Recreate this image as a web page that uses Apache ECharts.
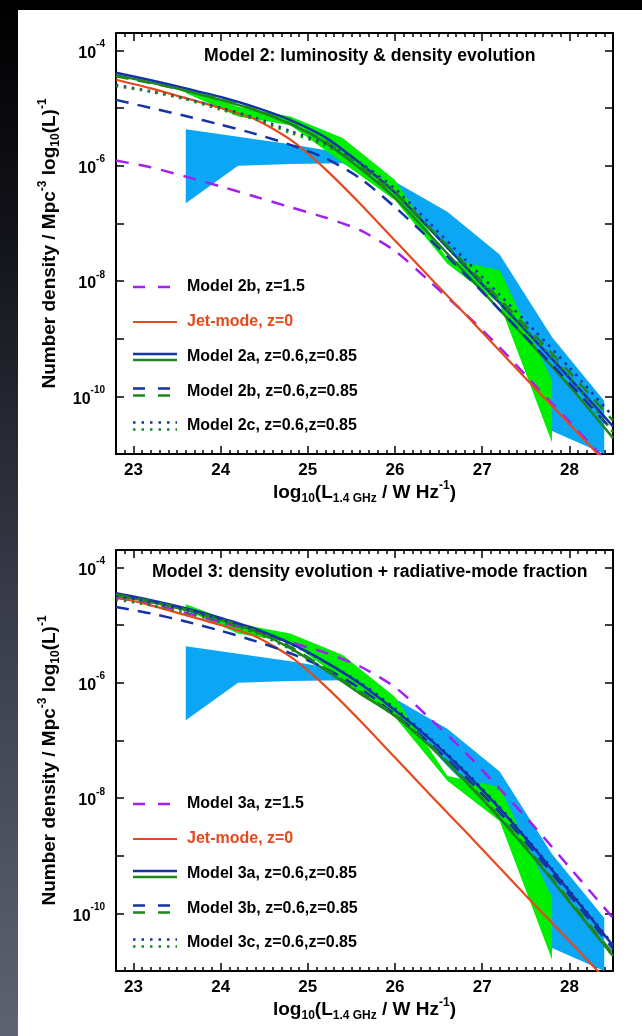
<!DOCTYPE html>
<html>
<head>
<meta charset="utf-8">
<script src="https://cdn.jsdelivr.net/npm/echarts@6/dist/echarts.min.js"></script>
<style>
html,body{margin:0;padding:0;}
body{width:642px;height:1036px;position:relative;overflow:hidden;background:linear-gradient(to bottom,#000 0%,#15161d 25%,#3a3d4b 60%,#5e6272 100%);}
#paper{position:absolute;left:18px;top:10px;right:0;bottom:0;background:#fff;}
#c{position:absolute;left:0;top:0;width:642px;height:1036px;}
</style>
</head>
<body>
<div id="paper"></div>
<div id="c"></div>
<script>
// ---------------- data (log10 of number density, per Mpc^3 per log10 L) ----------------
const TITLES = ['Model 2: luminosity & density evolution', 'Model 3: density evolution + radiative-mode fraction'];
const LEGEND_P1 = ['Model 2b, z=1.5', 'Jet-mode, z=0', 'Model 2a, z=0.6,z=0.85', 'Model 2b, z=0.6,z=0.85', 'Model 2c, z=0.6,z=0.85'];
const LEGEND_P2 = ['Model 3a, z=1.5', 'Jet-mode, z=0', 'Model 3a, z=0.6,z=0.85', 'Model 3b, z=0.6,z=0.85', 'Model 3c, z=0.6,z=0.85'];
const X_LABELS = [23, 24, 25, 26, 27, 28];
const Y_TICKS = [-10, -9, -8, -7, -6, -5, -4];
const Y_LABELS = [-10, -8, -6, -4];

// luminosity grid of the model curves, log10(L / W Hz^-1)
const LUM = [22.8, 23.2, 23.6, 24.0, 24.4, 24.8, 25.2, 25.6, 26.0, 26.4, 26.8, 27.2, 27.6, 28.0, 28.5];

// jet-mode local LF (same in both panels)
const JET_Z0 = [-4.51, -4.66, -4.83, -5.00, -5.20, -5.55, -6.06, -6.66, -7.30, -7.94, -8.57, -9.21, -9.85, -10.48, -11.28];

// panel 1: Model 2
const M2B_Z15   = [-5.91, -6.03, -6.19, -6.36, -6.54, -6.72, -6.90, -7.12, -7.48, -8.01, -8.56, -9.15, -9.80, -10.44, -11.25];
const M2A_BLUE  = [-4.39, -4.52, -4.66, -4.81, -4.99, -5.21, -5.51, -5.96, -6.47, -7.10, -7.74, -8.38, -9.02, -9.68, -10.52];
const M2A_GREEN = [-4.43, -4.56, -4.70, -4.86, -5.04, -5.28, -5.60, -6.05, -6.56, -7.20, -7.85, -8.50, -9.15, -9.82, -10.72];
const M2B_BLUE  = [-4.86, -5.00, -5.14, -5.29, -5.45, -5.64, -5.87, -6.22, -6.72, -7.28, -7.88, -8.50, -9.13, -9.77, -10.60];
const M2B_GREEN = [-4.45, -4.57, -4.70, -4.85, -5.03, -5.27, -5.58, -6.02, -6.48, -7.08, -7.70, -8.32, -8.94, -9.58, -10.42];
const M2C_BLUE  = [-4.60, -4.71, -4.84, -5.00, -5.17, -5.40, -5.62, -5.95, -6.40, -7.00, -7.62, -8.24, -8.86, -9.50, -10.35];
const M2C_GREEN = [-4.62, -4.72, -4.85, -5.03, -5.20, -5.43, -5.65, -5.98, -6.45, -7.08, -7.72, -8.36, -9.00, -9.66, -10.62];

// panel 2: Model 3
const M3A_Z15   = [-4.53, -4.63, -4.79, -4.95, -5.11, -5.30, -5.48, -5.72, -6.08, -6.62, -7.20, -7.84, -8.50, -9.20, -10.08];
const M3A_BLUE  = [-4.45, -4.57, -4.71, -4.88, -5.07, -5.32, -5.64, -6.02, -6.48, -6.98, -7.55, -8.18, -8.88, -9.62, -10.56];
const M3A_GREEN = [-4.49, -4.60, -4.74, -4.91, -5.11, -5.40, -5.78, -6.19, -6.58, -7.10, -7.70, -8.35, -9.05, -9.80, -10.74];
const M3B_BLUE  = [-4.69, -4.80, -4.94, -5.10, -5.28, -5.49, -5.75, -6.10, -6.55, -7.05, -7.62, -8.25, -8.94, -9.68, -10.62];
const M3B_GREEN = [-4.47, -4.59, -4.73, -4.90, -5.10, -5.38, -5.75, -6.16, -6.56, -7.08, -7.68, -8.33, -9.02, -9.77, -10.70];
const M3C_BLUE  = [-4.50, -4.60, -4.74, -4.90, -5.08, -5.33, -5.64, -6.00, -6.45, -6.96, -7.53, -8.16, -8.86, -9.60, -10.54];
const M3C_GREEN = [-4.56, -4.66, -4.79, -4.95, -5.14, -5.42, -5.78, -6.18, -6.58, -7.10, -7.70, -8.35, -9.05, -9.80, -10.74];

// observed ranges (shaded bands, same in both panels)
const BLUE_BAND_L     = [23.6, 24.2, 24.8, 25.4, 26.0, 26.6, 27.2, 27.8, 28.4];
const BLUE_BAND_UPPER = [-5.37, -5.50, -5.63, -5.78, -6.28, -6.80, -7.54, -8.97, -10.08];
const BLUE_BAND_LOWER = [-6.65, -6.00, -5.97, -5.96, -6.45, -7.45, -8.35, -10.60, -11.00];
const GREEN_BAND_L     = [23.6, 24.2, 24.8, 25.4, 26.0, 26.6, 27.2, 27.8];
const GREEN_BAND_UPPER = [-4.64, -4.98, -5.15, -5.52, -6.25, -7.62, -7.81, -9.72];
const GREEN_BAND_LOWER = [-4.74, -5.15, -5.30, -5.95, -6.60, -7.70, -8.40, -10.80];

// ---------------- styling ----------------
const FONT = "'Liberation Sans', Arial, Helvetica, sans-serif";
const C = {purple:'#a31ff2', orange:'#e6491d', blue:'#1533a6', green:'#1d871d', bandBlue:'#0ba6f4', bandGreen:'#00ee00'};
const X_MIN = 22.8, X_MAX = 28.5, Y_MIN = -11, Y_MAX = -3.7;
const GRID_TOP = [33, 550];
const X_MINOR = [];
for (let k = 229; k <= 285; k++) { if (k % 10 !== 0) X_MINOR.push(k / 10); }

const tickStyle = {color:'#000', width:1.5};
const lineAx = {show:true, onZero:false, lineStyle:{color:'#000', width:2}};

const xAxes = [], yAxes = [], grids = [], series = [], titles = [];

function pairs(xs, ys) { return xs.map((x, k) => [x, ys[k]]); }

function bandSeries(gi, Ls, up, lo, color) {
  return {
    type:'custom', xAxisIndex: gi*4, yAxisIndex: gi*2, clip:true, silent:true, z:1,
    data: [[Ls[0], up[0]]],
    renderItem: function (params, api) {
      const pts = [];
      for (let k = 0; k < Ls.length; k++) pts.push(api.coord([Ls[k], up[k]]));
      for (let k = Ls.length - 1; k >= 0; k--) pts.push(api.coord([Ls[k], lo[k]]));
      return {type:'polygon', shape:{points:pts}, style:{fill:color}};
    }
  };
}
function lineSeries(gi, ys, color, width, dash, z) {
  return {
    type:'line', xAxisIndex: gi*4, yAxisIndex: gi*2, data: pairs(LUM, ys),
    symbol:'none', showSymbol:false, smooth:0.25, clip:true, silent:true, z: z,
    lineStyle:{color:color, width:width, type: dash || 'solid', cap:'butt'}
  };
}

function legendEls(labels, dy) {
  const x0 = 133, x1 = 177, tx = 187;
  const rows = [287, 322, 357, 392, 426].map(v => v + dy);
  const ln = (y, color, w, dash) => ({type:'line', silent:true, z:50,
    shape:{x1:x0, y1:y, x2:x1, y2:y}, style:{stroke:color, lineWidth:w, lineDash:dash || null}});
  const els = [
    ln(rows[0], C.purple, 2.5, [12, 13]),
    ln(rows[1], C.orange, 2.2),
    ln(rows[2] - 3, C.blue, 2.5), ln(rows[2] + 3, C.green, 2.5),
    ln(rows[3] - 3.5, C.blue, 2.5, [12, 13]), ln(rows[3] + 3.5, C.green, 2.5, [12, 13]),
    ln(rows[4] - 3.5, C.blue, 2.5, [2.5, 6]), ln(rows[4] + 3.5, C.green, 2.5, [2.5, 6])
  ];
  labels.forEach((t, k) => {
    els.push({type:'text', silent:true, z:50, x:tx, y:rows[k],
      style:{text:t, font:'bold 16px ' + FONT, fill: k === 1 ? C.orange : '#000', align:'left', verticalAlign:'middle'}});
  });
  return els;
}

const yName = '{m|Number density / Mpc}{sup|-3}{m| log}{sub|10}{m|(L)}{sup|-1}';
const xName = '{m|log}{sub|10}{m|(L}{sub|1.4 GHz}{m| / W Hz}{sup|-1}{m|)}';
function nameRich(size, small) {
  return {
    m:{fontSize:size, fontWeight:'bold', fontFamily:FONT, color:'#000', lineHeight:size + 6, verticalAlign:'middle'},
    sup:{fontSize:small, fontWeight:'bold', fontFamily:FONT, color:'#000', lineHeight:small + 1, verticalAlign:'top'},
    sub:{fontSize:small, fontWeight:'bold', fontFamily:FONT, color:'#000', lineHeight:small + 1, verticalAlign:'bottom'}
  };
}

[0, 1].forEach(gi => {
  grids.push({left:116, top:GRID_TOP[gi], width:497, height:421, containLabel:false});
  const base = {gridIndex:gi, type:'value', min:X_MIN, max:X_MAX, splitLine:{show:false}};
  xAxes.push(Object.assign({}, base, {position:'bottom', axisLine:lineAx,
    axisTick:{show:true, inside:true, length:8, lineStyle:tickStyle, customValues:X_LABELS},
    axisLabel:{show:true, customValues:X_LABELS, margin:8, color:'#000', fontSize:17, fontWeight:'bold', fontFamily:FONT},
    name:xName, nameLocation:'middle', nameGap:23, nameTextStyle:{rich:nameRich(19, 12)}}));
  xAxes.push(Object.assign({}, base, {position:'bottom', axisLine:{show:false},
    axisTick:{show:true, inside:true, length:4, lineStyle:tickStyle, customValues:X_MINOR}, axisLabel:{show:false}}));
  xAxes.push(Object.assign({}, base, {position:'top', axisLine:lineAx,
    axisTick:{show:true, inside:true, length:8, lineStyle:tickStyle, customValues:X_LABELS}, axisLabel:{show:false}}));
  xAxes.push(Object.assign({}, base, {position:'top', axisLine:{show:false},
    axisTick:{show:true, inside:true, length:4, lineStyle:tickStyle, customValues:X_MINOR}, axisLabel:{show:false}}));
  const ybase = {gridIndex:gi, type:'value', min:Y_MIN, max:Y_MAX, splitLine:{show:false}};
  yAxes.push(Object.assign({}, ybase, {position:'left', axisLine:lineAx,
    axisTick:{show:true, inside:true, length:8, lineStyle:tickStyle, customValues:Y_TICKS},
    axisLabel:{show:true, customValues:Y_LABELS, margin:11,
      formatter: v => '{b|10}{s|' + Math.round(v) + '}',
      rich:{b:{fontSize:16, fontWeight:'bold', fontFamily:FONT, color:'#000', lineHeight:22, verticalAlign:'bottom'},
            s:{fontSize:10, fontWeight:'bold', fontFamily:FONT, color:'#000', lineHeight:12, verticalAlign:'top'}}},
    name:yName, nameLocation:'middle', nameRotate:90, nameGap:53, nameTextStyle:{rich:nameRich(19, 12)}}));
  yAxes.push(Object.assign({}, ybase, {position:'right', axisLine:lineAx,
    axisTick:{show:true, inside:true, length:8, lineStyle:tickStyle, customValues:Y_TICKS}, axisLabel:{show:false}}));

  titles.push({text:TITLES[gi], left: gi === 0 ? 204 : 152, top: gi === 0 ? 47 : 563, padding:0,
    textStyle:{fontSize:17.6, fontWeight:'bold', fontFamily:FONT, color:'#000'}});

  series.push(bandSeries(gi, BLUE_BAND_L, BLUE_BAND_UPPER, BLUE_BAND_LOWER, C.bandBlue));
  series.push(bandSeries(gi, GREEN_BAND_L, GREEN_BAND_UPPER, GREEN_BAND_LOWER, C.bandGreen));
});

// panel 1 curves
series.push(lineSeries(0, M2B_Z15, C.purple, 2.5, [13, 10], 3));
series.push(lineSeries(0, JET_Z0, C.orange, 2.2, null, 3));
series.push(lineSeries(0, M2A_GREEN, C.green, 2.5, null, 4));
series.push(lineSeries(0, M2A_BLUE, C.blue, 2.5, null, 4));
series.push(lineSeries(0, M2B_BLUE, C.blue, 2.5, [13, 9], 4));
series.push(lineSeries(0, M2B_GREEN, C.green, 2.5, [13, 9], 4));
series.push(lineSeries(0, M2C_BLUE, C.blue, 2.5, [2.5, 5.5], 4));
series.push(lineSeries(0, M2C_GREEN, C.green, 2.5, [2.5, 5.5], 4));
// panel 2 curves
series.push(lineSeries(1, M3A_Z15, C.purple, 2.5, [13, 10], 3));
series.push(lineSeries(1, JET_Z0, C.orange, 2.2, null, 3));
series.push(lineSeries(1, M3A_GREEN, C.green, 2.5, null, 4));
series.push(lineSeries(1, M3A_BLUE, C.blue, 2.5, null, 4));
series.push(lineSeries(1, M3B_BLUE, C.blue, 2.5, [13, 9], 4));
series.push(lineSeries(1, M3B_GREEN, C.green, 2.5, [13, 9], 4));
series.push(lineSeries(1, M3C_BLUE, C.blue, 2.5, [2.5, 5.5], 4));
series.push(lineSeries(1, M3C_GREEN, C.green, 2.5, [2.5, 5.5], 4));

const chart = echarts.init(document.getElementById('c'), null, {renderer:'canvas'});
chart.setOption({
  backgroundColor:'transparent',
  animation:false,
  title:titles,
  grid:grids,
  xAxis:xAxes,
  yAxis:yAxes,
  series:series,
  graphic:{elements: legendEls(LEGEND_P1, 0).concat(legendEls(LEGEND_P2, 517))}
});
</script>
</body>
</html>
